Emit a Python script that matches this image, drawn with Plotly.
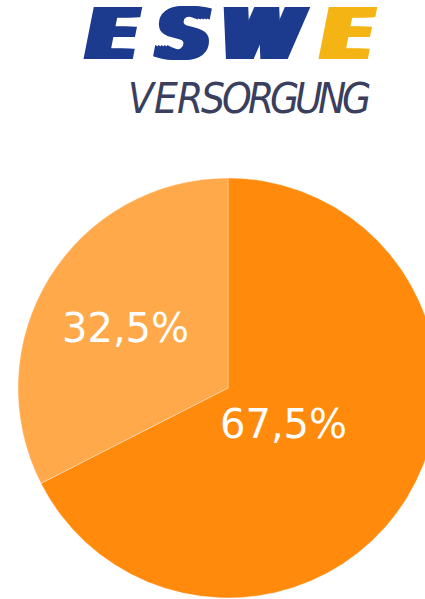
import plotly.graph_objects as go

# Pie shares
shares = [67.5, 32.5]
share_labels = ["67,5%", "32,5%"]
slice_colors = ["#FF8A0C", "#FFA94B"]

# Logo text
logo_letters = ["E", "S", "W", "E"]
logo_colors = ["#1C3A8E", "#1C3A8E", "#1C3A8E", "#F4B414"]
logo_sub = "VERSORGUNG"

W, H = 456, 599


def px(x):
    return x / W


def py(y):
    return 1 - y / H


fig = go.Figure()

fig.add_trace(
    go.Pie(
        values=shares,
        textinfo="none",
        sort=False,
        direction="clockwise",
        rotation=0,
        marker=dict(colors=slice_colors,
                    line=dict(color="rgba(255,255,255,0.35)", width=1)),
        domain=dict(x=[0, 1], y=[py(598), py(178)]),
        showlegend=False,
        hoverinfo="skip",
    )
)

annotations = []

# percentage labels sitting on each slice
label_pos = [(283, 424), (125, 328)]
for lab, (lx, ly) in zip(share_labels, label_pos):
    annotations.append(dict(
        text=lab,
        x=px(lx), y=py(ly), xref="paper", yref="paper",
        xanchor="center", yanchor="middle", showarrow=False,
        font=dict(family="DejaVu Sans", size=40, color="white"),
    ))

# ESWE logo, one letter at a time, smeared sideways to look wider/heavier
letter_x = [112, 184, 263, 347]
for ch, col, lx in zip(logo_letters, logo_colors, letter_x):
    smear = ", ".join(f"{d}px 0px 0px {col}" for d in (-6, -3, 3, 6))
    annotations.append(dict(
        text="<b><i>" + ch + "</i></b>",
        x=px(lx), y=py(34), xref="paper", yref="paper",
        xanchor="center", yanchor="middle", showarrow=False,
        font=dict(family="DejaVu Sans", size=72, color=col, shadow=smear),
    ))

# VERSORGUNG, spaced letters
for i, ch in enumerate(logo_sub):
    annotations.append(dict(
        text="<i>" + ch + "</i>",
        x=px(142 + i * 23.8), y=py(98), xref="paper", yref="paper",
        xanchor="center", yanchor="middle", showarrow=False,
        font=dict(family="DejaVu Sans Condensed, DejaVu Sans",
                  size=42, color="#3B3F5E"),
    ))

fig.update_layout(
    width=W,
    height=H,
    margin=dict(l=0, r=0, t=0, b=0),
    paper_bgcolor="white",
    plot_bgcolor="white",
    annotations=annotations,
)

fig.write_html(
    "out.html",
    config={"displayModeBar": False},
    post_script="document.body.style.margin='0';"
                "document.body.style.overflow='hidden';"
                "document.documentElement.style.overflow='hidden';",
)
